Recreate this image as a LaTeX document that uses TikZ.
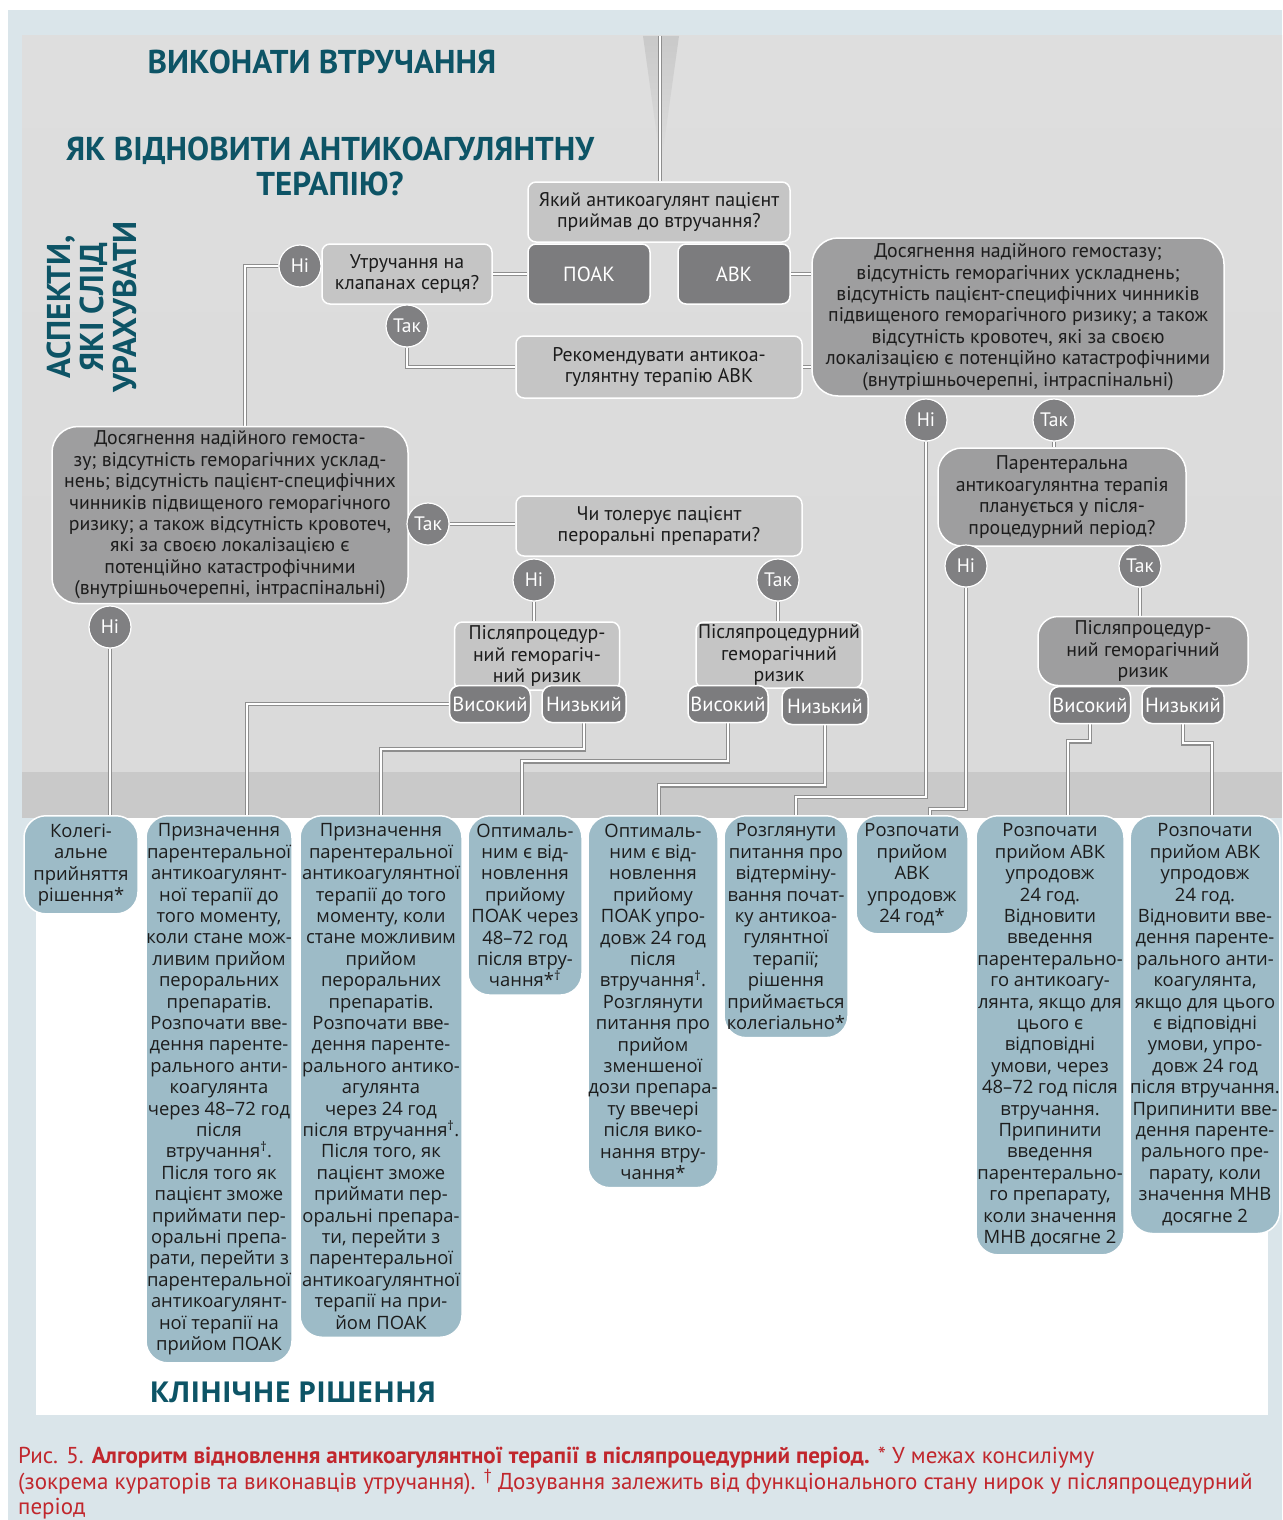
\documentclass[tikz,border=0pt]{standalone}
\usepackage{fontspec}
\setmainfont{PT Sans}
\newfontfamily\opensans{Open Sans}

\definecolor{pageblue}{HTML}{DAE5EA}
\definecolor{panelgrey}{HTML}{DADADA}
\definecolor{paneltop}{HTML}{DEDEDE}
\definecolor{bandgrey}{HTML}{C9C9C9}
\definecolor{funnelgrey}{HTML}{C9C9C9}
\definecolor{lightbox}{HTML}{C5C5C5}
\definecolor{midbox}{HTML}{9E9E9F}
\definecolor{darkbox}{HTML}{7C7C7E}
\definecolor{circgrey}{HTML}{808082}
\definecolor{linegrey}{HTML}{8E8E8E}
\definecolor{tealbox}{HTML}{9DBBC7}
\definecolor{titleteal}{HTML}{0D5466}
\definecolor{capred}{HTML}{C1272D}
\definecolor{inktext}{HTML}{1C1C1C}

\pgfdeclarelayer{bg}
\pgfdeclarelayer{links}
\pgfsetlayers{bg,links,main}

\newcommand\grtext{\fontsize{19.8}{21.4}\selectfont}
\newcommand\dktext{\fontsize{20.5}{22}\selectfont}
\newcommand\yntext{\fontsize{19.5}{22}\selectfont}
\newcommand\tltext{\opensans\fontsize{18.4}{21.4}\selectfont}
\newcommand\headtext{\bfseries\fontsize{33}{35}\selectfont}

\begin{document}
\begin{tikzpicture}[x=1pt,y=-1pt,
  lbox/.style={draw=white, line width=1.5pt, fill=lightbox, rounded corners=8pt,
    align=center, inner sep=0pt, text=inktext, font=\grtext},
  mbox/.style={draw=white, line width=1.5pt, fill=midbox, rounded corners=26pt,
    align=center, inner sep=0pt, text=inktext, font=\grtext},
  dbox/.style={draw=white, line width=1.5pt, fill=darkbox, rounded corners=8pt,
    align=center, inner sep=0pt, text=white, font=\dktext},
  yn/.style={circle, draw=white, line width=1.2pt, fill=circgrey, minimum size=42pt,
    inner sep=0pt, text=white, font=\yntext},
  tbox/.style={draw=white, line width=1.5pt, fill=tealbox, rounded corners=22pt,
    align=center, inner xsep=0pt, inner ysep=8pt, anchor=north, text=inktext, font=\tltext},
  conn/.style={draw=linegrey, double=white, line width=1.3pt, double distance=2pt},
  head/.style={text=titleteal, font=\headtext, align=center, inner sep=0pt}]

\useasboundingbox (0,0) rectangle (1282,1520);

% ---------- backgrounds ----------
\begin{pgfonlayer}{bg}
  \fill[white] (0,0) rectangle (1282,1520);
  \fill[pageblue] (8,10) rectangle (1282,1520);
  \shade[top color=paneltop, bottom color=panelgrey] (22,36) rectangle (1282,772);
  \fill[bandgrey] (22,772) rectangle (1282,818);
  \fill[white] (36,818) rectangle (1268,1415);
  \shade[top color=funnelgrey, bottom color=paneltop] (643,36) -- (679,36) -- (661,165) -- cycle;
\end{pgfonlayer}

% ---------- headings ----------
\node[head] (hdA) at (322,62) {ВИКОНАТИ ВТРУЧАННЯ};
\node[head] (hdB) at (330,166) {ЯК ВІДНОВИТИ АНТИКОАГУЛЯНТНУ\\ТЕРАПІЮ?};
\node[head, rotate=90, font=\bfseries\fontsize{33}{33}\selectfont] (hdC) at (92,307) {АСПЕКТИ,\\ЯКІ СЛІД\\УРАХУВАТИ};
\node[text=titleteal, font=\opensans\bfseries\fontsize{28.8}{30}\selectfont, inner sep=0pt] (hdD) at (293,1392) {КЛІНІЧНЕ РІШЕННЯ};

% ---------- decision boxes ----------
\coordinate (start) at (660,36);
\node[lbox, minimum width=262pt, minimum height=60pt] (q1) at (659,212) {Який антикоагулянт пацієнт\\приймав до втручання?};
\node[dbox, minimum width=122pt, minimum height=60pt] (poak) at (589,274) {ПОАК};
\node[dbox, minimum width=112pt, minimum height=60pt] (avk) at (734,274) {АВК};
\node[lbox, minimum width=170pt, minimum height=60pt] (valve) at (407,274) {Утручання на\\клапанах серця?};
\node[yn] (hi1) at (300,266) {Ні};
\node[yn] (tak1) at (407,326) {Так};
\node[lbox, minimum width=286pt, minimum height=62pt] (rec) at (659,367) {Рекомендувати антикоа-\\гулянтну терапію АВК};

\node[mbox, minimum width=412pt, minimum height=158pt] (bigR) at (1018,317) {Досягнення надійного гемостазу;\\відсутність геморагічних ускладнень;\\відсутність пацієнт-специфічних чинників\\підвищеного геморагічного ризику; а також\\відсутність кровотеч, які за своєю\\локалізацією є потенційно катастрофічними\\(внутрішньочерепні, інтраспінальні)};
\node[yn] (hi2) at (926,420) {Ні};
\node[yn] (tak2) at (1054,420) {Так};
\node[mbox, rounded corners=24pt, minimum width=248pt, minimum height=98pt] (par) at (1062,497) {Парентеральна\\антикоагулянтна терапія\\планується у після-\\процедурний період?};
\node[yn] (hi3) at (966,566) {Ні};
\node[yn] (tak3) at (1140,566) {Так};
\node[mbox, rounded corners=20pt, minimum width=210pt, minimum height=69pt] (riskR) at (1143,651) {Післяпроцедур-\\ний геморагічний\\ризик};
\node[dbox, rounded corners=10pt, minimum width=81pt, minimum height=37pt] (vR) at (1090,705) {Високий};
\node[dbox, rounded corners=10pt, minimum width=82pt, minimum height=37pt] (nR) at (1183,705) {Низький};

\node[mbox, minimum width=356pt, minimum height=177pt] (bigL) at (230,515) {Досягнення надійного гемоста-\\зу; відсутність геморагічних усклад-\\нень; відсутність пацієнт-специфічних\\чинників підвищеного геморагічного\\ризику; а також відсутність кровотеч,\\які за своєю локалізацією є\\потенційно катастрофічними\\(внутрішньочерепні, інтраспінальні)};
\node[yn] (tak4) at (428,524) {Так};
\node[yn] (hi6) at (110,627) {Ні};
\node[lbox, minimum width=286pt, minimum height=60pt] (tol) at (659,526) {Чи толерує пацієнт\\пероральні препарати?};
\node[yn] (hi5) at (534,580) {Ні};
\node[yn] (tak5) at (778,580) {Так};
\node[lbox, minimum width=165pt, minimum height=68pt] (riskA) at (537,656) {Післяпроцедур-\\ний геморагіч-\\ний ризик};
\node[lbox, minimum width=166pt, minimum height=66pt] (riskB) at (779,655) {Післяпроцедурний\\геморагічний\\ризик};
\node[dbox, rounded corners=10pt, minimum width=81pt, minimum height=37pt] (vA) at (490,704) {Високий};
\node[dbox, rounded corners=10pt, minimum width=84pt, minimum height=37pt] (nA) at (584,704) {Низький};
\node[dbox, rounded corners=10pt, minimum width=80pt, minimum height=37pt] (vB) at (728,704) {Високий};
\node[dbox, rounded corners=10pt, minimum width=86pt, minimum height=37pt] (nB) at (825,706) {Низький};

% ---------- clinical decisions ----------
\node[tbox, minimum width=114pt] (b1) at (81,815) {Колегі-\\альне\\прийняття\\рішення*};
\node[tbox, minimum width=146pt] (b2) at (219,815) {Призначення\\парентеральної\\антикоагулянт-\\ної терапії до\\того моменту,\\коли стане мож-\\ливим прийом\\пероральних\\препаратів.\\Розпочати вве-\\дення паренте-\\рального анти-\\коагулянта\\через 48–72 год\\після\\втручання\textsuperscript{†}.\\Після того як\\пацієнт зможе\\приймати пер-\\оральні препа-\\рати, перейти з\\парентеральної\\антикоагулянт-\\ної терапії на\\прийом ПОАК};
\node[tbox, minimum width=162pt] (b3) at (381,815) {Призначення\\парентеральної\\антикоагулянтної\\терапії до того\\моменту, коли\\стане можливим\\прийом\\пероральних\\препаратів.\\Розпочати вве-\\дення паренте-\\рального антико-\\агулянта\\через 24 год\\після втручання\textsuperscript{†}.\\Після того, як\\пацієнт зможе\\приймати пер-\\оральні препара-\\ти, перейти з\\парентеральної\\антикоагулянтної\\терапії на при-\\йом ПОАК};
\node[tbox, minimum width=114pt] (b4) at (525,815) {Оптималь-\\ним є від-\\новлення\\прийому\\ПОАК через\\48–72 год\\після втру-\\чання*\textsuperscript{†}};
\node[tbox, minimum width=130pt] (b5) at (653,815) {Оптималь-\\ним є від-\\новлення\\прийому\\ПОАК упро-\\довж 24 год\\після\\втручання\textsuperscript{†}.\\Розглянути\\питання про\\прийом\\зменшеної\\дози препара-\\ту ввечері\\після вико-\\нання втру-\\чання*};
\node[tbox, minimum width=124pt] (b6) at (786,815) {Розглянути\\питання про\\відтерміну-\\вання почат-\\ку антикоа-\\гулянтної\\терапії;\\рішення\\приймається\\колегіально*};
\node[tbox, minimum width=112pt] (b7) at (912,815) {Розпочати\\прийом\\АВК\\упродовж\\24 год*};
\node[tbox, minimum width=148pt] (b8) at (1050,815) {Розпочати\\прийом АВК\\упродовж\\24 год.\\Відновити\\введення\\парентерально-\\го антикоагу-\\лянта, якщо для\\цього є\\відповідні\\умови, через\\48–72 год після\\втручання.\\Припинити\\введення\\парентерально-\\го препарату,\\коли значення\\МНВ досягне 2};
\node[tbox, minimum width=146pt] (b9) at (1205,815) {Розпочати\\прийом АВК\\упродовж\\24 год.\\Відновити вве-\\дення паренте-\\рального анти-\\коагулянта,\\якщо для цього\\є відповідні\\умови, упро-\\довж 24 год\\після втручання.\\Припинити вве-\\дення паренте-\\рального пре-\\парату, коли\\значення МНВ\\досягне 2};

% ---------- caption ----------
\node[anchor=north west, align=left, inner sep=0pt, text=capred, font=\fontsize{23}{25}\selectfont] (cap) at (18,1447)
  {Рис. 5. \textbf{Алгоритм відновлення антикоагулянтної терапії в післяпроцедурний період.} * У межах консиліуму\\(зокрема кураторів та виконавців утручання). \textsuperscript{†} Дозування залежить від функціонального стану нирок у післяпроцедурний\\період};

% ---------- connectors ----------
\begin{pgfonlayer}{links}
  \draw[conn] (start) -- (start |- q1.north);
  \draw[conn] (valve.east) -- (valve.east -| poak.west);
  \draw[conn] (avk.east) -- (avk.east -| bigR.west);
  \draw[conn] (hi1.west) -| ([xshift=15pt]bigL.north);
  \draw[conn] (tak1.south) |- (rec.west);
  \draw[conn] (rec.east) -- (rec.east -| bigR.west);
  \draw[conn] (tak2.south) -- (tak2.south |- par.north);
  \draw[conn] (hi2.south) |- ([xshift=10pt,yshift=18pt]b6.north) -- ([xshift=10pt]b6.north);
  \draw[conn] (hi3.south) |- ([xshift=18pt,yshift=6pt]b7.north) -- ([xshift=18pt]b7.north);
  \draw[conn] (tak3.south) -- (tak3.south |- riskR.north);
  \draw[conn] (vR.south) -- ++(0,17) -| ([xshift=18pt]b8.north);
  \draw[conn] (nR.south) -- ++(0,19) -| ([xshift=7pt]b9.north);
  \draw[conn] (hi6.south) -- (hi6.south |- b1.north);
  \draw[conn] (tak4.east) -- (tak4.east -| tol.west);
  \draw[conn] (hi5.south) -- (hi5.south |- riskA.north);
  \draw[conn] (tak5.south) -- (tak5.south |- riskB.north);
  \draw[conn] (vA.west) -| ([xshift=28pt]b2.north);
  \draw[conn] (nA.south) -- ++(0,26) -| (b3.north);
  \draw[conn] (vB.south) -- ++(0,38) -| ([xshift=-3pt]b4.north);
  \draw[conn] (nB.south) -- ++(0,60) -| ([xshift=6pt]b5.north);
\end{pgfonlayer}
\end{tikzpicture}
\end{document}
